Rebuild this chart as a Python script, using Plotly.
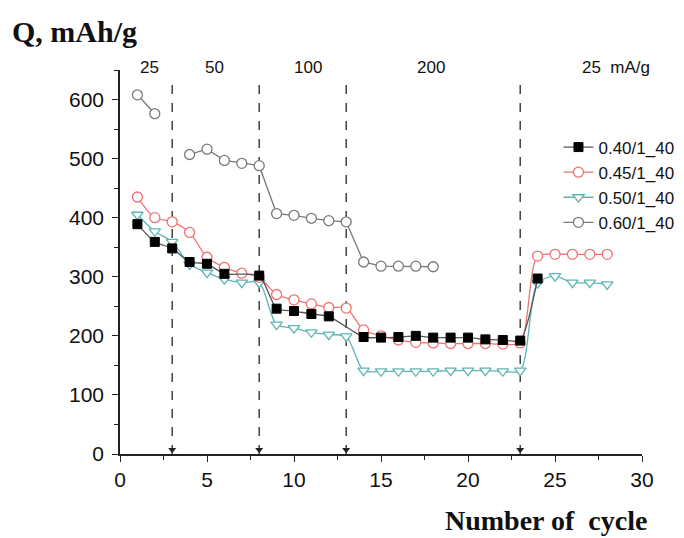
import plotly.graph_objects as go

cycles = list(range(1, 29))

q_040 = [389, 359, 348, 325, 322, 305, None, 302, 246, 242, 237, 233, None,
         198, 197, 198, 200, 197, 197, 197, 194, 193, 192, 297]
q_045 = [435, 400, 393, 375, 333, 316, 306, 299, 270, 261, 254, 248, 247,
         210, 200, 193, 189, 188, 187, 187, 187, 186, 188, 335, 338, 338, 338, 338]
q_050 = [405, 377, 359, 321, 307, 296, 290, 290, 219, 213, 206, 202, 199,
         141, 140, 140, 140, 140, 141, 141, 141, 140, 141, 289, 301, 290, 290, 287]
q_060 = [608, 576, None, 507, 516, 497, 492, 488, 407, 404, 399, 395, 393,
         325, 318, 318, 318, 317]

series_names = ["0.40/1_40", "0.45/1_40", "0.50/1_40", "0.60/1_40"]

rate_change_cycles = [3, 8, 13, 23]
rate_labels = ["25", "50", "100", "200", "25&nbsp;&nbsp;mA/g"]
rate_label_x = [1.7, 5.45, 10.8, 17.9, 28.5]

x_ticks = [0, 5, 10, 15, 20, 25, 30]
y_ticks = [0, 100, 200, 300, 400, 500, 600]

fig = go.Figure()

# gray 0.60
fig.add_trace(go.Scatter(
    x=cycles[:len(q_060)], y=q_060, name=series_names[3], mode="lines+markers",
    line=dict(color="#7a7a7a", width=1.3), connectgaps=False,
    marker=dict(symbol="circle", size=10, color="white",
                line=dict(color="#7a7a7a", width=1.3)),
    legendrank=4))
# cyan 0.50
fig.add_trace(go.Scatter(
    x=cycles[:len(q_050)], y=q_050, name=series_names[2], mode="lines+markers",
    line=dict(color="#5fb5b5", width=1.3, shape="spline", smoothing=0.8),
    marker=dict(symbol="triangle-down", size=10, color="white",
                line=dict(color="#5fb5b5", width=1.3)),
    legendrank=3))
# red 0.45
fig.add_trace(go.Scatter(
    x=cycles[:len(q_045)], y=q_045, name=series_names[1], mode="lines+markers",
    line=dict(color="#f07272", width=1.3, shape="spline", smoothing=0.8),
    marker=dict(symbol="circle", size=10, color="white",
                line=dict(color="#f07272", width=1.3)),
    legendrank=2))
# black 0.40
fig.add_trace(go.Scatter(
    x=cycles[:len(q_040)], y=q_040, name=series_names[0], mode="lines+markers",
    line=dict(color="#555555", width=1.3, shape="spline", smoothing=0.6),
    connectgaps=True,
    marker=dict(symbol="square", size=9, color="black",
                line=dict(color="black", width=1)),
    legendrank=1))

# arrowheads at bottom of dashed lines
fig.add_trace(go.Scatter(
    x=rate_change_cycles, y=[7] * len(rate_change_cycles), mode="markers",
    marker=dict(symbol="triangle-down", size=7, color="#222"),
    showlegend=False, hoverinfo="skip"))

for c in rate_change_cycles:
    fig.add_shape(type="line", x0=c, x1=c, y0=0, y1=630, xref="x", yref="y",
                  line=dict(color="#333", width=1.4, dash="dash"), layer="below")

for lab, lx in zip(rate_labels, rate_label_x):
    fig.add_annotation(x=lx, y=1.006, xref="x", yref="paper", text=lab,
                       showarrow=False, yanchor="middle",
                       font=dict(family="Liberation Sans", size=17, color="#111"))

fig.update_layout(
    width=684, height=538,
    margin=dict(l=120, r=42, t=70, b=84, autoexpand=False),
    paper_bgcolor="white", plot_bgcolor="white",
    showlegend=True,
    legend=dict(x=0.84, y=0.845, xanchor="left", yanchor="top",
                font=dict(family="Liberation Sans", size=17, color="#111"),
                bgcolor="rgba(0,0,0,0)", tracegroupgap=0, itemwidth=30),
    font=dict(family="Liberation Sans", color="#111"),
)

fig.update_xaxes(range=[0, 30], tickvals=x_ticks, ticks="outside", ticklen=6,
                 tickwidth=1.3, tickcolor="#222", showline=True, linecolor="#222",
                 linewidth=1.5, showgrid=False, zeroline=False, automargin=False,
                 tickfont=dict(family="Liberation Sans", size=21, color="#111"),
                 minor=dict(dtick=2.5, ticks="outside", ticklen=4, tickcolor="#222",
                            tickwidth=1.2, showgrid=False))
fig.update_yaxes(range=[0, 650], tickvals=y_ticks, ticks="outside", ticklen=6,
                 tickwidth=1.3, tickcolor="#222", showline=True, linecolor="#222",
                 linewidth=1.5, showgrid=False, zeroline=False, automargin=False,
                 ticklabelstandoff=4,
                 tickfont=dict(family="Liberation Sans", size=21, color="#111"),
                 minor=dict(dtick=50, ticks="outside", ticklen=4, tickcolor="#222",
                            tickwidth=1.2, showgrid=False))

fig.add_annotation(x=-0.21, y=1.10, xref="paper", yref="paper", text="<b>Q, mAh/g</b>",
                   showarrow=False, xanchor="left", yanchor="middle",
                   font=dict(family="Liberation Serif", size=30, color="#111"))
fig.add_annotation(x=1.013, y=-0.172, xref="paper", yref="paper",
                   text="<b>Number of&nbsp;&nbsp;cycle</b>",
                   showarrow=False, xanchor="right", yanchor="middle",
                   font=dict(family="Liberation Serif", size=28, color="#111"))

fig.write_html("out.html")
